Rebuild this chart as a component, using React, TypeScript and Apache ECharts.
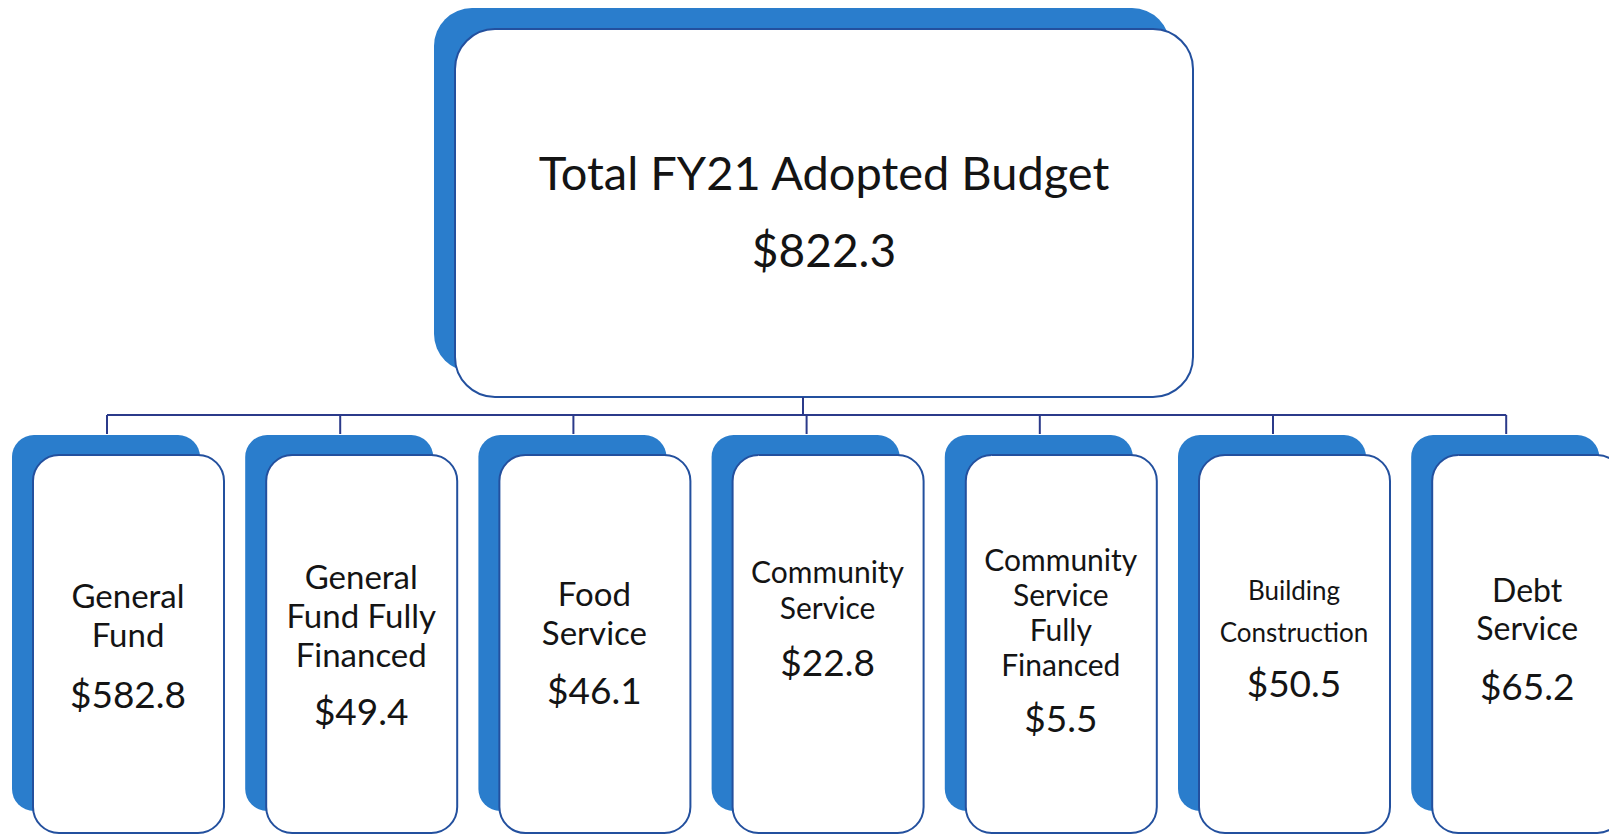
import React, { useEffect, useRef } from "react";
import * as echarts from "echarts";

// ---- data ----
const totalLabel = "Total FY21 Adopted Budget";
const totalValue = 822.3;
const fundNames: string[][] = [
  ["General", "Fund"],
  ["General", "Fund Fully", "Financed"],
  ["Food", "Service"],
  ["Community", "Service"],
  ["Community", "Service", "Fully", "Financed"],
  ["Building", "Construction"],
  ["Debt", "Service"],
];
const fundValues: number[] = [582.8, 49.4, 46.1, 22.8, 5.5, 50.5, 65.2];

// ---- layout / style ----
const W = 1609;
const H = 835;
const BLUE = "#2a7dcc";
const BORDER = "#23509e";
const LINE = "#2b3a8a";
const TEXT = "#141414";
const FONT = "Lato, 'Noto Sans', sans-serif";

const nameFont = [33, 33, 33, 30, 30, 26, 32];
const nameLine = [39, 39, 39, 36, 35, 42, 38];
const blockCenter = [644, 643, 641, 616, 638, 636, 637];
const valueGap = [59, 56, 58, 55, 53, 50, 58];
const valueFont = 37;

function fmt(v: number) {
  return "$" + v.toFixed(1);
}

function buildElements() {
  const els: any[] = [];
  // top card
  els.push({
    type: "rect",
    shape: { x: 434, y: 8, width: 736, height: 364, r: 38 },
    style: { fill: BLUE },
  });
  els.push({
    type: "rect",
    shape: { x: 455, y: 29, width: 738, height: 368, r: 40 },
    style: { fill: "#ffffff", stroke: BORDER, lineWidth: 2 },
  });
  const topCx = 824;
  els.push({
    type: "text",
    style: {
      x: topCx, y: 172, text: totalLabel, align: "center", verticalAlign: "middle",
      fontSize: 47, fontFamily: FONT, fill: TEXT,
    },
  });
  els.push({
    type: "text",
    style: {
      x: topCx, y: 249, text: fmt(totalValue), align: "center", verticalAlign: "middle",
      fontSize: 46, fontFamily: FONT, fill: TEXT,
    },
  });

  // connectors
  const step = 233.2;
  const frontX0 = 33;
  const n = fundValues.length;
  const ticks = fundValues.map((_, i) => frontX0 + i * step + 74);
  els.push({
    type: "line",
    shape: { x1: 803, y1: 397, x2: 803, y2: 415 },
    style: { stroke: LINE, lineWidth: 2 },
  });
  els.push({
    type: "line",
    shape: { x1: ticks[0], y1: 415, x2: ticks[n - 1], y2: 415 },
    style: { stroke: LINE, lineWidth: 2 },
  });
  ticks.forEach((tx) => {
    els.push({
      type: "line",
      shape: { x1: tx, y1: 415, x2: tx, y2: 434 },
      style: { stroke: LINE, lineWidth: 2 },
    });
  });

  // child cards
  fundValues.forEach((v, i) => {
    const fx = frontX0 + i * step;
    els.push({
      type: "rect",
      shape: { x: fx - 21, y: 435, width: 188, height: 376, r: 22 },
      style: { fill: BLUE },
    });
    els.push({
      type: "rect",
      shape: { x: fx, y: 455, width: 191, height: 378, r: 26 },
      style: { fill: "#ffffff", stroke: BORDER, lineWidth: 2 },
    });
    const cx = fx + 95;
    const lines = fundNames[i];
    const lh = nameLine[i];
    const total = (lines.length - 1) * lh + valueGap[i];
    const top = blockCenter[i] - total / 2;
    lines.forEach((ln, k) => {
      els.push({
        type: "text",
        style: {
          x: cx, y: top + k * lh, text: ln, align: "center", verticalAlign: "middle",
          fontSize: nameFont[i], fontFamily: FONT, fill: TEXT,
        },
      });
    });
    els.push({
      type: "text",
      style: {
        x: cx, y: top + (lines.length - 1) * lh + valueGap[i], text: fmt(v),
        align: "center", verticalAlign: "middle",
        fontSize: valueFont, fontFamily: FONT, fill: TEXT,
      },
    });
  });
  return els;
}

export default function App() {
  const ref = useRef<HTMLDivElement>(null);
  useEffect(() => {
    document.body.style.margin = "0";
    const chart = echarts.init(ref.current!, null, { renderer: "svg" });
    chart.setOption({
      animation: false,
      backgroundColor: "#ffffff",
      graphic: { elements: buildElements() },
    });
    return () => chart.dispose();
  }, []);
  return <div ref={ref} style={{ width: W, height: H }} />;
}
